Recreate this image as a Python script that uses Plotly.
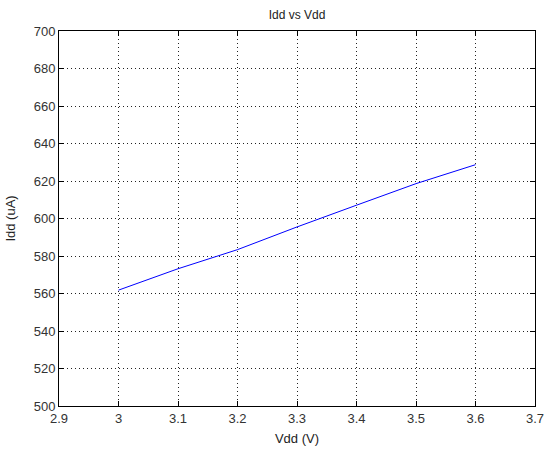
import plotly.graph_objects as go

vdd = [3.0, 3.1, 3.2, 3.3, 3.4, 3.5, 3.6]
idd = [561.8, 573.2, 583.4, 595.5, 607.1, 618.6, 628.7]

x_ticks = [2.9, 3.0, 3.1, 3.2, 3.3, 3.4, 3.5, 3.6, 3.7]
x_labels = ["2.9", "3", "3.1", "3.2", "3.3", "3.4", "3.5", "3.6", "3.7"]
y_ticks = list(range(500, 701, 20))

font = "Liberation Sans, Arial, sans-serif"

fig = go.Figure()
fig.add_trace(go.Scatter(x=vdd, y=idd, mode="lines",
                         line=dict(color="#0000ff", width=1)))

axis_common = dict(
    showline=True, linecolor="black", linewidth=1, mirror="ticks",
    ticks="inside", ticklen=5, tickcolor="black",
    showgrid=True, gridcolor="#222222", griddash="1px,3px", gridwidth=1,
    zeroline=False, automargin=False, ticklabeloverflow="allow",
    tickfont=dict(family=font, size=13, color="#333333"),
)

fig.update_layout(
    width=544, height=449,
    margin=dict(l=59, r=9, t=31, b=43, autoexpand=False),
    paper_bgcolor="white", plot_bgcolor="white",
    showlegend=False,
    title=dict(text="Idd vs Vdd", x=(59 + 476 / 2) / 544, xanchor="center",
               y=1 - 15 / 449, yanchor="middle", automargin=False,
               font=dict(family=font, size=12, color="#222222")),
    xaxis=dict(range=[2.9, 3.7], tickvals=x_ticks, ticktext=x_labels,
               title=dict(text="Vdd (V)", font=dict(family=font, size=13, color="#222222"), standoff=9),
               **axis_common),
    yaxis=dict(range=[500, 700], tickvals=y_ticks,
               title=dict(text="Idd (uA)", font=dict(family=font, size=13, color="#222222"), standoff=15),
               **axis_common),
)

fig.write_html("out.html",
               config={"displayModeBar": False},
               post_script="document.body.style.margin='0';document.body.style.overflow='hidden';")
